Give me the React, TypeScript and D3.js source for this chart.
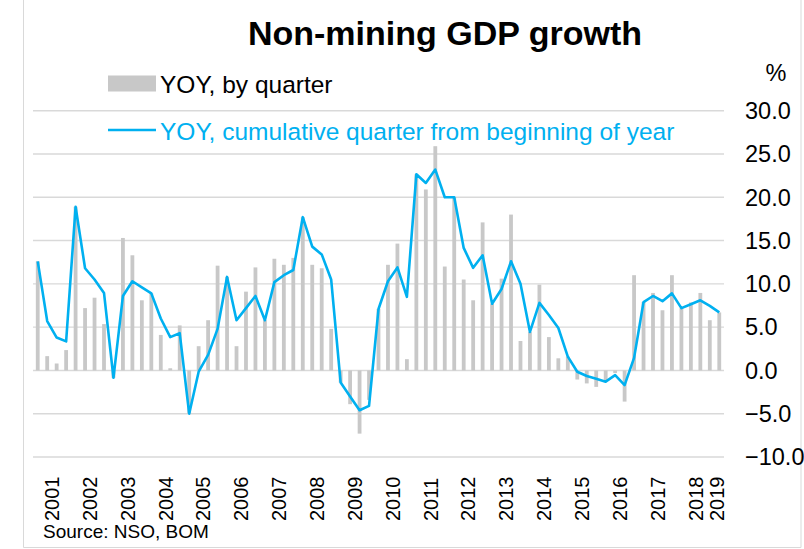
import React from "react";
import * as d3 from "d3";

const quarters: string[] = [];
for (let y = 2001; y <= 2019; y++) {
  for (let q = 1; q <= 4; q++) {
    if (y === 2019 && q > 1) break;
    quarters.push(`${y}Q${q}`);
  }
}

const yoyQuarter: number[] = [
  12.6, 1.65, 0.8, 2.35,
  18.9, 7.2, 8.4, 5.35,
  -0.85, 15.3, 13.3, 8.1,
  8.9, 4.1, 0.25, 5.2,
  -5.0, 2.8, 5.8, 12.1,
  10.8, 2.8, 9.1, 11.9,
  5.8, 12.9, 12.2, 13.0,
  17.7, 12.2, 11.8, 4.8,
  -1.4, -3.9, -7.3, -3.4,
  7.1, 12.2, 14.65, 1.3,
  22.65, 20.9, 25.9, 12.0,
  20.0, 10.5, 8.1, 17.1,
  7.7, 10.6, 18.0, 3.4,
  4.45, 9.9, 3.85, 1.4,
  1.6, -1.05, -1.5, -1.9,
  -1.3, -0.3, -3.6, 11.0,
  7.9, 8.95, 6.95, 11.0,
  7.2, 7.85, 8.95, 5.8,
  6.7,
];

const yoyCumulative: number[] = [
  12.6, 5.7, 3.8, 3.35,
  18.9, 11.8, 10.5, 8.95,
  -0.85, 8.6, 10.3, 9.6,
  8.9, 6.0, 3.85, 4.3,
  -5.0, -0.15, 1.8, 4.8,
  10.8, 5.8, 7.2, 8.6,
  5.8, 10.2, 11.0, 11.6,
  17.7, 14.3, 13.4, 10.5,
  -1.4, -3.0, -4.6, -4.1,
  7.1, 10.3, 11.9, 8.5,
  22.65, 21.65, 23.2, 20.0,
  20.0, 14.15, 11.85, 13.3,
  7.7, 9.4, 12.6, 10.0,
  4.45, 7.8, 6.4, 4.9,
  1.6, -0.15, -0.65, -0.95,
  -1.3, -0.55, -1.7, 1.45,
  7.9, 8.6, 8.0, 8.9,
  7.2, 7.65, 8.1, 7.45,
  6.7,
];

const yTicks: number[] = [-10, -5, 0, 5, 10, 15, 20, 25, 30];
const years: number[] = d3.range(2001, 2020);

const W = 804;
const H = 549;
const left = 33;
const right = 724;
const top = 110.7;
const bottom = 457;

export default function App() {
  const x = d3.scaleBand<string>().domain(quarters).range([left, right]).padding(0);
  const y = d3.scaleLinear().domain([-10, 30]).range([bottom, top]);
  const bw = x.bandwidth();
  const cx = (q: string) => (x(q) as number) + bw / 2;
  const barW = 3.8;

  const line = d3
    .line<number>()
    .x((_, i) => cx(quarters[i]))
    .y((d) => y(d));

  const yearLabelX = (yr: number) => {
    const qs = quarters.filter((q) => q.startsWith(String(yr)));
    const a = x(qs[0]) as number;
    const b = (x(qs[qs.length - 1]) as number) + bw;
    return Math.min((a + b) / 2, right - 7);
  };

  const font = "'Liberation Sans', Arial, sans-serif";

  return (
    <svg
      width={W}
      height={H}
      style={{ position: "absolute", left: 0, top: 0, background: "#fff" }}
      fontFamily={font}
    >
      <rect x={0} y={0} width={W} height={H} fill="#fff" />
      {/* frame */}
      <line x1={23.5} y1={0} x2={23.5} y2={547.5} stroke="#d9d9d9" strokeWidth={1} />
      <line x1={23.5} y1={547.5} x2={801} y2={547.5} stroke="#d9d9d9" strokeWidth={1} />
      <line x1={801} y1={0} x2={801} y2={547.5} stroke="#d9d9d9" strokeWidth={1} />

      {/* title */}
      <text x={445} y={45} textAnchor="middle" fontSize={34} fontWeight="bold" fill="#000">
        Non-mining GDP growth
      </text>

      {/* gridlines */}
      {yTicks.map((t) => (
        <line key={t} x1={left} x2={right} y1={y(t)} y2={y(t)} stroke="#d9d9d9" strokeWidth={1.4} />
      ))}

      {/* y axis labels */}
      {yTicks.map((t) => (
        <text key={"l" + t} x={745} y={y(t)} dy="0.35em" fontSize={23.5} fill="#000">
          {d3.format(".1f")(t)}
        </text>
      ))}
      <text x={776} y={73} dy="0.35em" textAnchor="middle" fontSize={23.5} fill="#000">
        %
      </text>

      {/* bars */}
      {yoyQuarter.map((v, i) => (
        <rect
          key={"b" + i}
          x={cx(quarters[i]) - barW / 2}
          y={Math.min(y(v), y(0))}
          width={barW}
          height={Math.abs(y(v) - y(0))}
          fill="#c8c8c8"
        />
      ))}

      {/* line */}
      <path d={line(yoyCumulative) || ""} fill="none" stroke="#00b0f0" strokeWidth={2.6} strokeLinejoin="round" />

      {/* legend */}
      <rect x={108} y={75.5} width={48} height={16} fill="#c8c8c8" />
      <text x={160} y={93} fontSize={24.5} fill="#000">
        YOY, by quarter
      </text>
      <line x1={108} x2={156} y1={130} y2={130} stroke="#00b0f0" strokeWidth={2.6} />
      <text x={160} y={139.5} fontSize={24.5} fill="#00b0f0">
        YOY, cumulative quarter from beginning of year
      </text>

      {/* x labels */}
      {years.map((yr) => (
        <text
          key={"y" + yr}
          transform={`translate(${yearLabelX(yr)},521) rotate(-90)`}
          dy="0.35em"
          fontSize={20}
          fill="#000"
        >
          {yr}
        </text>
      ))}

      {/* source */}
      <text x={43} y={538} fontSize={19} fill="#000">
        Source: NSO, BOM
      </text>
    </svg>
  );
}
